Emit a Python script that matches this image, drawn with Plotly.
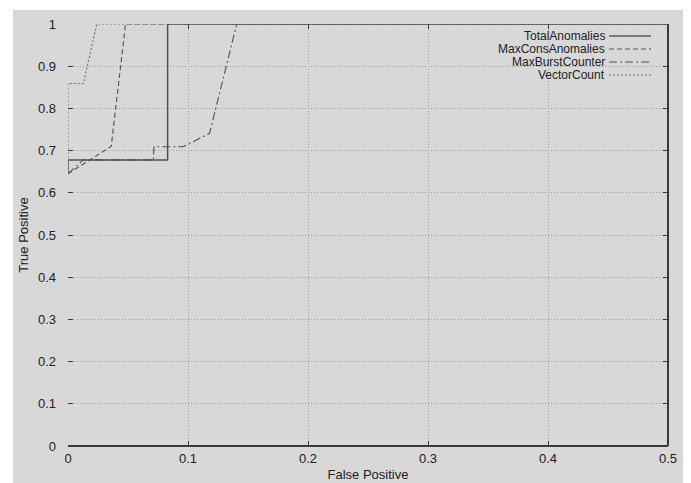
import plotly.graph_objects as go

# Data
series_names = ["TotalAnomalies", "MaxConsAnomalies", "MaxBurstCounter", "VectorCount"]

total_fp = [0.0, 0.0, 0.083, 0.083, 1.0]
total_tp = [0.645, 0.678, 0.678, 1.0, 1.0]

maxcons_fp = [0.0, 0.036, 0.048, 1.0]
maxcons_tp = [0.645, 0.71, 1.0, 1.0]

maxburst_fp = [0.0, 0.0128, 0.071, 0.0717, 0.096, 0.118, 0.1406, 1.0]
maxburst_tp = [0.645, 0.678, 0.678, 0.709, 0.709, 0.741, 1.0, 1.0]

vector_fp = [0.0, 0.0, 0.0128, 0.024, 1.0]
vector_tp = [0.645, 0.859, 0.859, 1.0, 1.0]

x_ticks = [0, 0.1, 0.2, 0.3, 0.4, 0.5]
x_tick_labels = ["0", "0.1", "0.2", "0.3", "0.4", "0.5"]
y_ticks = [0, 0.1, 0.2, 0.3, 0.4, 0.5, 0.6, 0.7, 0.8, 0.9, 1.0]
y_tick_labels = ["0", "0.1", "0.2", "0.3", "0.4", "0.5", "0.6", "0.7", "0.8", "0.9", "1"]

styles = [
    dict(color="#505050", width=1.5, dash="solid"),
    dict(color="#505050", width=1.1, dash="5px,3px"),
    dict(color="#505050", width=1.1, dash="8px,3px,2px,3px"),
    dict(color="#707070", width=1.1, dash="2px,2px"),
]
xs = [total_fp, maxcons_fp, maxburst_fp, vector_fp]
ys = [total_tp, maxcons_tp, maxburst_tp, vector_tp]

fig = go.Figure()
for name, x, y, st in zip(series_names, xs, ys, styles):
    fig.add_trace(go.Scatter(x=x, y=y, mode="lines", name=name, line=st,
                             showlegend=False, cliponaxis=True))

# the page body adds an 8px offset, so the figure is laid out in shifted coords
OFF = 8
WIN_W, WIN_H = 691, 483
W, H = WIN_W - OFF, WIN_H - OFF
L, R, T, B = 68 - OFF, 23, 24 - OFF, 37
pw, ph = W - L - R, H - T - B

def px2x(px):
    # px in window coords
    return (px - OFF - L) / pw

def py2y(py):
    return (H - B - (py - OFF)) / ph

shapes = []
# grey page background (white strip at left/top)
shapes.append(dict(type="rect", xref="paper", yref="paper", layer="below",
                   x0=px2x(13), x1=px2x(WIN_W + 4), y0=py2y(WIN_H + 4), y1=py2y(10),
                   fillcolor="#d8d8d8", line=dict(width=0)))
# border: bottom and right
shapes.append(dict(type="line", xref="paper", yref="paper", x0=0, x1=1, y0=0, y1=0,
                   line=dict(color="#3a3a3a", width=2)))
shapes.append(dict(type="line", xref="paper", yref="paper", x0=1, x1=1, y0=0, y1=1,
                   line=dict(color="#3a3a3a", width=2)))

FONT = "Liberation Sans, Arial, sans-serif"
annotations = []
# manual legend (text right-aligned, sample to the right)
leg_text_right = 606
leg_sample_x0, leg_sample_x1 = 609, 651
leg_y0, leg_dy = 36, 13
for i, (name, st) in enumerate(zip(series_names, styles)):
    yy = leg_y0 + i * leg_dy
    annotations.append(dict(xref="paper", yref="paper", x=px2x(leg_text_right), y=py2y(yy),
                            text=name, showarrow=False, xanchor="right", yanchor="middle",
                            borderpad=0,
                            font=dict(family=FONT, size=12, color="#222")))
    shapes.append(dict(type="line", xref="paper", yref="paper",
                       x0=px2x(leg_sample_x0), x1=px2x(leg_sample_x1), y0=py2y(yy), y1=py2y(yy),
                       line=dict(color="#7a7a7a" if i == 0 else st["color"],
                                 width=2 if i == 0 else 1, dash=st["dash"])))

fig.update_layout(
    width=W, height=H,
    margin=dict(l=L, r=R, t=T, b=B, pad=0, autoexpand=False),
    paper_bgcolor="white",
    plot_bgcolor="rgba(0,0,0,0)",
    shapes=shapes,
    annotations=annotations,
    font=dict(family=FONT, size=13, color="#222"),
    showlegend=False,
)
fig.update_xaxes(
    range=[0, 0.5], tickvals=x_ticks, ticktext=x_tick_labels, automargin=False,
    showgrid=True, gridcolor="#9c9c9c", griddash="1px,2px", gridwidth=1,
    zeroline=False, showline=False, ticks="inside", ticklen=5, tickcolor="#3a3a3a",
    mirror="ticks", ticklabelstandoff=3,
    title=dict(text="False Positive", font=dict(size=13), standoff=4),
)
fig.update_yaxes(
    range=[0, 1], tickvals=y_ticks, ticktext=y_tick_labels, automargin=False,
    showgrid=True, gridcolor="#9c9c9c", griddash="1px,2px", gridwidth=1,
    zeroline=False, showline=False, ticks="inside", ticklen=5, tickcolor="#3a3a3a",
    mirror="ticks", ticklabelstandoff=11,
    title=dict(text="True Positive", font=dict(size=13), standoff=6),
)

fig.write_html("out.html")
